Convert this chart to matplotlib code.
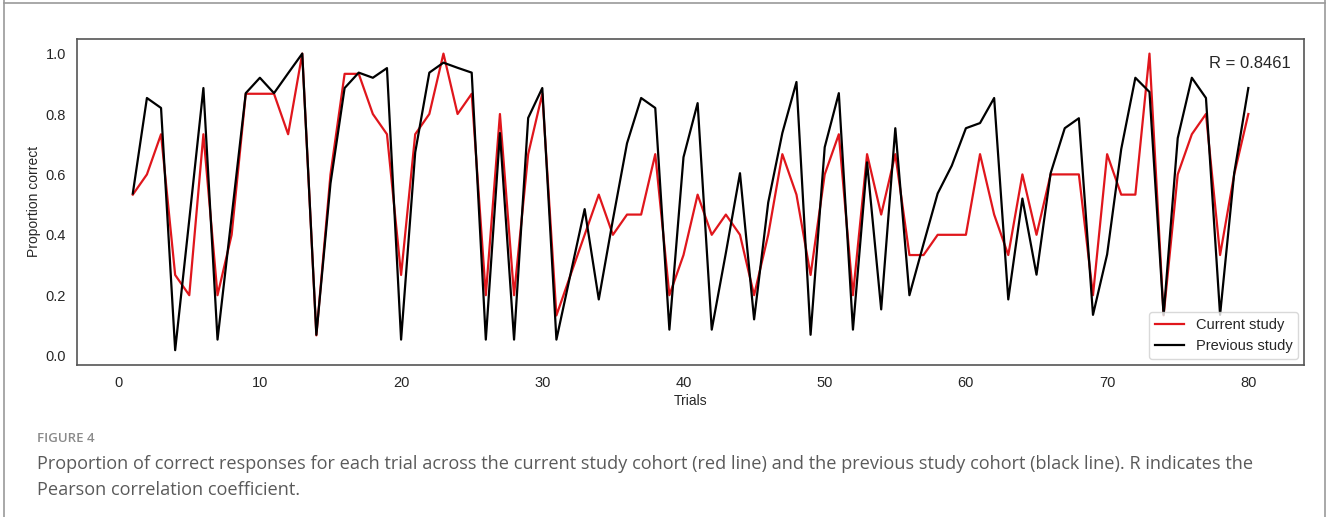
import numpy as np
import matplotlib.pyplot as plt
from matplotlib.lines import Line2D

trials = np.arange(1, 81)

current = [0.533, 0.600, 0.733, 0.267, 0.200, 0.733, 0.200, 0.400, 0.867, 0.867,
           0.867, 0.733, 1.000, 0.067, 0.600, 0.933, 0.933, 0.800, 0.733, 0.267,
           0.733, 0.800, 1.000, 0.800, 0.867, 0.200, 0.800, 0.200, 0.667, 0.867,
           0.133, 0.267, 0.400, 0.533, 0.400, 0.467, 0.467, 0.667, 0.200, 0.333,
           0.533, 0.400, 0.467, 0.400, 0.200, 0.400, 0.667, 0.533, 0.267, 0.600,
           0.733, 0.200, 0.667, 0.467, 0.667, 0.333, 0.333, 0.400, 0.400, 0.400,
           0.667, 0.467, 0.333, 0.600, 0.400, 0.600, 0.600, 0.600, 0.200, 0.667,
           0.533, 0.533, 1.000, 0.133, 0.600, 0.733, 0.800, 0.333, 0.600, 0.800]

previous = [0.537, 0.853, 0.820, 0.018, 0.450, 0.886, 0.053, 0.460, 0.869, 0.920,
            0.869, 0.935, 1.000, 0.069, 0.570, 0.886, 0.937, 0.920, 0.952, 0.053,
            0.673, 0.937, 0.970, 0.953, 0.937, 0.053, 0.737, 0.053, 0.787, 0.886,
            0.053, 0.270, 0.485, 0.186, 0.450, 0.703, 0.853, 0.820, 0.086, 0.657,
            0.836, 0.086, 0.340, 0.604, 0.120, 0.507, 0.737, 0.906, 0.069, 0.690,
            0.869, 0.086, 0.640, 0.153, 0.753, 0.200, 0.370, 0.537, 0.629, 0.753,
            0.770, 0.853, 0.186, 0.520, 0.268, 0.604, 0.753, 0.786, 0.135, 0.335,
            0.684, 0.920, 0.873, 0.135, 0.720, 0.920, 0.853, 0.135, 0.604, 0.886]

r_text = "R = 0.8461"
caption_head = "FIGURE 4"
caption = ("Proportion of correct responses for each trial across the current study cohort (red line) "
           "and the previous study cohort (black line). R indicates the\nPearson correlation coefficient.")

plt.rcParams['font.family'] = ['Liberation Sans', 'DejaVu Sans']

fig = plt.figure(figsize=(13.28, 5.17), dpi=100)
ax = fig.add_axes([0.058, 0.294, 0.924, 0.631])

ax.plot(trials, current, color='#e0161c', lw=1.6, label='Current study')
ax.plot(trials, previous, color='black', lw=1.6, label='Previous study')

ax.set_yticks([0.0, 0.2, 0.4, 0.6, 0.8, 1.0])
ax.set_xticks(range(0, 81, 10))
ax.tick_params(length=0, pad=8, labelsize=10.5, colors='#262626')
for s in ax.spines.values():
    s.set_color('#555555')
    s.set_linewidth(1.2)

ax.set_xlabel('Trials', fontsize=10, color='#262626', labelpad=3)
ax.set_ylabel('Proportion correct', fontsize=10, color='#262626', labelpad=3)

ax.text(0.989, 0.925, r_text, transform=ax.transAxes, ha='right', va='center',
        fontsize=12, color='#262626')

leg = ax.legend(loc='lower right', fontsize=10.5, frameon=True, fancybox=True,
                borderaxespad=0.4, handlelength=2.0)
leg.get_frame().set_edgecolor('#d0d0d0')
for t in leg.get_texts():
    t.set_color('#262626')

fig.text(37 / 1328, 1 - 438 / 517, caption_head, fontsize=9.5, color='#8a8a8a',
         family=['Open Sans', 'DejaVu Sans'], weight='semibold', va='center')
fig.text(37 / 1328, 1 - 477 / 517, caption, fontsize=13.05, color='#5a5a5a',
         family=['Open Sans', 'DejaVu Sans'], va='center', linespacing=1.62)

# outer frame of the figure panel
for xs, ys in [([4, 4], [0, 517]), ([1325, 1325], [0, 517]), ([4, 1325], [3, 3])]:
    fig.add_artist(Line2D([x / 1328 for x in xs], [1 - y / 517 for y in ys],
                          color='#9a9a9a', lw=1.2))

fig.savefig('out.png', dpi=100)
